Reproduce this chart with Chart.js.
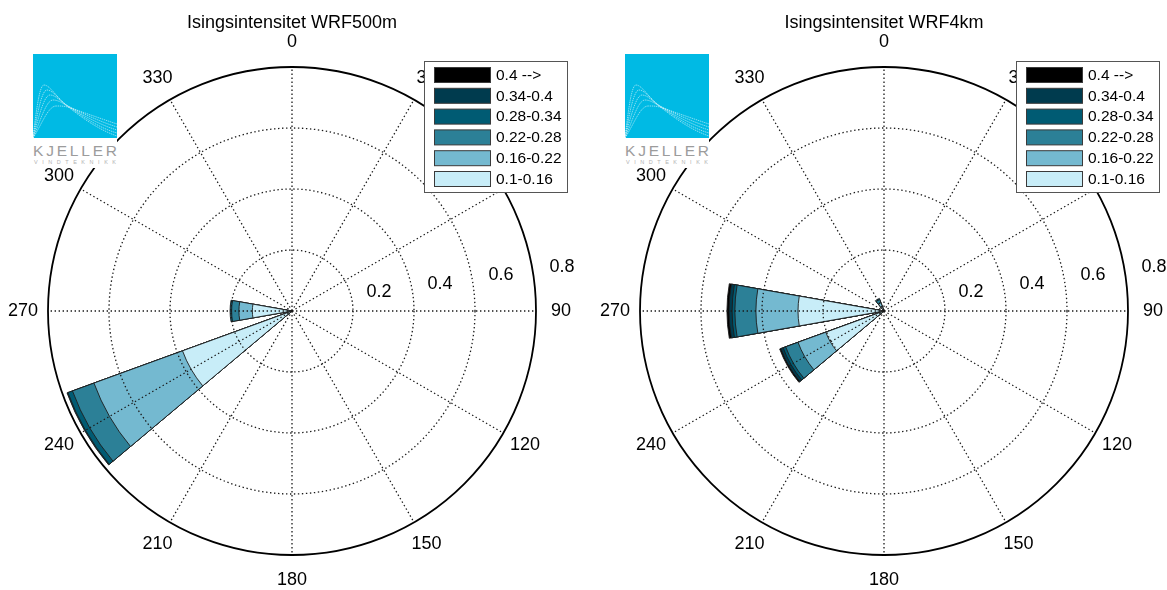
<!DOCTYPE html>
<html>
<head>
<meta charset="utf-8">
<title>Isingsintensitet</title>
<script src="https://cdn.jsdelivr.net/npm/chart.js@4.4.1/dist/chart.umd.min.js"></script>
<style>
  html, body { margin: 0; padding: 0; background: #fff; width: 1167px; height: 590px; overflow: hidden; }
  .panel { position: absolute; top: 0; height: 590px; }
  #p1 { left: 0; width: 592px; }
  #p2 { left: 592px; width: 575px; }
  .panel canvas { position: absolute; left: 0; top: 0; }
  .logo { position: absolute; left: 33px; top: 54px; }
</style>
</head>
<body>
<div class="panel" id="p1">
  <canvas id="c1" width="592" height="590"></canvas>
</div>
<div class="panel" id="p2">
  <canvas id="c2" width="575" height="590"></canvas>
</div>
<script>
// ---- data -------------------------------------------------------------
const directions = [0, 30, 60, 90, 120, 150, 180, 210, 240, 270, 300, 330];
const binLabels = ['0.1-0.16', '0.16-0.22', '0.22-0.28', '0.28-0.34', '0.34-0.4', '0.4 -->'];
const ringValues = [0.2, 0.4, 0.6, 0.8];
const ringLabels = ['0.2', '0.4', '0.6', '0.8'];

// WRF500m: frequency per intensity bin and direction
const wrf500_b1 = [0, 0, 0, 0, 0, 0, 0, 0, 0.382, 0.130, 0, 0];
const wrf500_b2 = [0, 0, 0, 0, 0, 0, 0, 0, 0.309, 0.044, 0, 0];
const wrf500_b3 = [0, 0, 0, 0, 0, 0, 0, 0, 0.075, 0.024, 0, 0];
const wrf500_b4 = [0, 0, 0, 0, 0, 0, 0, 0, 0.016, 0.005, 0, 0];
const wrf500_b5 = [0, 0, 0, 0, 0, 0, 0, 0, 0.003, 0, 0, 0];
const wrf500_b6 = [0, 0, 0, 0, 0, 0, 0, 0, 0, 0, 0, 0];

// WRF4km: frequency per intensity bin and direction
const wrf4_b1 = [0, 0, 0, 0, 0, 0, 0, 0, 0.203, 0.282, 0, 0.016];
const wrf4_b2 = [0, 0, 0, 0, 0, 0, 0, 0, 0.097, 0.138, 0, 0.014];
const wrf4_b3 = [0, 0, 0, 0, 0, 0, 0, 0, 0.043, 0.069, 0, 0.010];
const wrf4_b4 = [0, 0, 0, 0, 0, 0, 0, 0, 0.009, 0.009, 0, 0.004];
const wrf4_b5 = [0, 0, 0, 0, 0, 0, 0, 0, 0.008, 0.010, 0, 0];
const wrf4_b6 = [0, 0, 0, 0, 0, 0, 0, 0, 0.004, 0.007, 0, 0];

// ---- style ------------------------------------------------------------
const binColors = ['#c8edf8', '#74b9d0', '#2c8097', '#005b73', '#003b4e', '#000000'];
const WEDGE = 20;           // drawn width of each sector wedge (deg)
const SECTOR = 30;          // spacing between sectors (deg)
const GAP = SECTOR - WEDGE;
const SLOT = 10;            // angular slot step used for the scale labels
const FONT = '"Liberation Sans", Arial, Helvetica, sans-serif';
const DOT = [1.4, 2.6];     // dotted grid pattern

// scale label slots: slot i sits at compass angle -WEDGE/2 + i*SLOT
const slotLabels = new Array(360 / SLOT).fill('');
directions.forEach(d => { slotLabels[(d + WEDGE / 2) / SLOT] = String(d); });

function makeDatasets(bins) {
  const cum = directions.map(() => 0);
  return bins.map((vals, k) => {
    const data = [];
    vals.forEach((v, i) => {
      cum[i] += v;
      data.push(v > 0 ? +cum[i].toFixed(4) : 0); // wedge
      data.push(0);                               // gap to next sector
    });
    return {
      label: binLabels[k],
      data,
      backgroundColor: binColors[k],
      borderColor: '#1c1c1c',
      borderWidth: ctx => (ctx.raw > 0 ? 0.9 : 0),
      angle: ctx => (ctx.dataIndex % 2 ? GAP : WEDGE)
    };
  });
}

// titles, direction labels, ring labels and the bin legend
const decor = {
  id: 'decor',
  afterDraw(chart, args, o) {
    const ctx = chart.ctx;
    const s = chart.scales.r;
    const rMax = s.getDistanceFromCenterForValue(s.max);
    ctx.save();
    ctx.fillStyle = '#000';
    ctx.font = '18px ' + FONT;
    ctx.textAlign = 'center';
    ctx.textBaseline = 'middle';
    ctx.fillText(o.title, s.xCenter, 23);

    chart.data.labels.forEach((lab, i) => {
      if (!lab) return;
      const p = s.getPointPosition(i, rMax + 25);
      ctx.fillText(lab, p.x, p.y);
    });

    ringValues.forEach((v, i) => {
      const r = s.getDistanceFromCenterForValue(v);
      ctx.fillText(ringLabels[i], s.xCenter + r + 26, s.yCenter - 10 - 0.14 * r);
    });

    // legend box
    const bx = 424.5, by = 61.5, bw = 143, bh = 131;
    ctx.fillStyle = '#fff';
    ctx.fillRect(bx, by, bw, bh);
    ctx.strokeStyle = '#555';
    ctx.lineWidth = 1;
    ctx.strokeRect(bx, by, bw, bh);
    ctx.font = '15.5px ' + FONT;
    ctx.textAlign = 'left';
    const sets = chart.data.datasets.slice().reverse();
    sets.forEach((ds, i) => {
      const py = 67 + i * 20.8;
      ctx.fillStyle = ds.backgroundColor;
      ctx.fillRect(434.5, py + 0.5, 56, 15);
      ctx.strokeStyle = '#3a3a3a';
      ctx.strokeRect(434.5, py + 0.5, 56, 15);
      ctx.fillStyle = '#000';
      ctx.fillText(ds.label, 496, py + 8.5);
    });
    ctx.restore();
  }
};

function makeChart(id, title, bins, padRight) {
  return new Chart(document.getElementById(id), {
    type: 'polarArea',
    data: { labels: slotLabels, datasets: makeDatasets(bins) },
    options: {
      responsive: false,
      animation: false,
      events: [],
      devicePixelRatio: 1,
      layout: { padding: { left: 48, right: padRight, top: 67, bottom: 35 } },
      plugins: {
        legend: { display: false },
        tooltip: { enabled: false },
        decor: { title }
      },
      scales: {
        r: {
          min: 0,
          max: ringValues[ringValues.length - 1],
          startAngle: -WEDGE / 2,
          afterBuildTicks: sc => { sc.ticks = [0, ...ringValues].map(v => ({ value: v })); },
          ticks: { display: false },
          pointLabels: { display: false },
          grid: {
            circular: true,
            z: 1,
            color: c => (c.tick && c.tick.value >= 0.8 ? '#000' : '#1a1a1a'),
            lineWidth: c => (c.tick && c.tick.value >= 0.8 ? 1.8 : 1.3)
          },
          border: { dash: c => (c.tick && c.tick.value >= 0.8 ? [] : DOT) },
          angleLines: {
            display: true,
            color: c => (c.label ? '#1a1a1a' : 'rgba(0,0,0,0)'),
            lineWidth: c => (c.label ? 1.3 : 0),
            borderDash: DOT
          }
        }
      }
    },
    plugins: [decor]
  });
}

makeChart('c1', 'Isingsintensitet WRF500m',
  [wrf500_b1, wrf500_b2, wrf500_b3, wrf500_b4, wrf500_b5, wrf500_b6], 56);
makeChart('c2', 'Isingsintensitet WRF4km',
  [wrf4_b1, wrf4_b2, wrf4_b3, wrf4_b4, wrf4_b5, wrf4_b6], 39);

// company logo in the upper left of each panel
const logoSvg =
  '<svg class="logo" width="84" height="114" viewBox="0 0 84 114" xmlns="http://www.w3.org/2000/svg">' +
  '<rect width="84" height="114" fill="#fff"/>' +
  '<rect width="84" height="84" fill="#00bae4"/>' +
  '<g fill="none" stroke="#fff" stroke-width="0.6" stroke-dasharray="1.4 0.8" opacity="0.9">' +
  '<path d="M0,84 C4,50 7,31 11,31 C17,31 24,44 34,52 C48,63 66,76 84,82"/>' +
  '<path d="M0,84 C5,56 9,36 14,36 C20,36 26,46 35,52 C49,62 66,74 84,79"/>' +
  '<path d="M0,84 C6,62 11,41 17,41 C23,41 28,48 36,53 C50,61 67,71 84,76"/>' +
  '<path d="M0,84 C7,68 13,46 20,46 C26,46 30,50 37,53 C51,60 68,68 84,73"/>' +
  '<path d="M0,84 C8,72 15,52 23,52 C29,52 32,52 38,54 C52,59 69,65 84,70"/>' +
  '</g>' +
  '<text x="0" y="102" font-size="15.5" fill="#9c9c9c" textLength="84" lengthAdjust="spacing" ' +
  'font-family="Liberation Sans, Arial, sans-serif">KJELLER</text>' +
  '<text x="1" y="110" font-size="5.5" fill="#b2b2b2" textLength="82" lengthAdjust="spacing" ' +
  'font-family="Liberation Sans, Arial, sans-serif">VINDTEKNIKK</text>' +
  '</svg>';
document.getElementById('p1').insertAdjacentHTML('beforeend', logoSvg);
document.getElementById('p2').insertAdjacentHTML('beforeend', logoSvg);
</script>
</body>
</html>
